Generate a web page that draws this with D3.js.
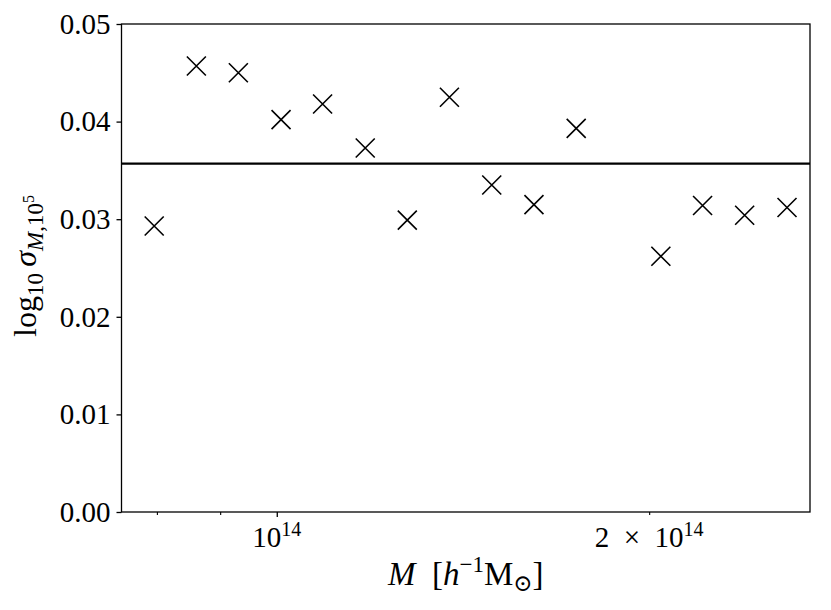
<!DOCTYPE html>
<html>
<head>
<meta charset="utf-8">
<script src="https://cdn.jsdelivr.net/npm/d3@7"></script>
<style>
    html, body { margin: 0; padding: 0; background: #fff; }
    svg text { font-family: 'Liberation Serif', 'DejaVu Serif', serif; fill: #000; }
</style>
</head>
<body>
<div id="chart"></div>
<script>
// halo mass bin centres (h^-1 Msun)
const massValues = [
    7.96e13, 8.61e13, 9.31e13, 1.008e14, 1.089e14, 1.179e14, 1.275e14, 1.379e14,
    1.492e14, 1.614e14, 1.746e14, 2.044e14, 2.209e14, 2.389e14, 2.585e14
];
// log10 sigma per bin
const sigmaValues = [
    0.0293, 0.0457, 0.0450, 0.0402, 0.0418, 0.0373, 0.0299, 0.0425,
    0.0335, 0.0315, 0.0393, 0.0262, 0.0314, 0.0304, 0.0312
];
const meanSigma = 0.0357;

const yTicks = [0, 0.01, 0.02, 0.03, 0.04, 0.05];
const yTickLabels = ['0.00', '0.01', '0.02', '0.03', '0.04', '0.05'];
const xMajorTicks = [1e14];
const xMinorTicks = [8e13, 9e13, 2e14];
const xTickLabels = [
    { value: 1e14, mantissa: '', exponent: '14' },
    { value: 2e14, mantissa: '2\u2002×\u2002', exponent: '14' }
];

const width = 831;
const height = 610;
const margin = { top: 24, right: 21, bottom: 98, left: 121.5 };
const innerWidth = width - margin.left - margin.right;
const innerHeight = height - margin.top - margin.bottom;

const svg = d3.select('#chart').append('svg')
    .attr('width', width)
    .attr('height', height);

const chartGroup = svg.append('g')
    .attr('transform', `translate(${margin.left},${margin.top})`);

const xScale = d3.scaleLog()
    .domain([7.49e13, 2.698e14])
    .range([0, innerWidth]);

const yScale = d3.scaleLinear()
    .domain([0, 0.05])
    .range([innerHeight, 0]);

const points = massValues.map((mass, index) => ({ mass, sigma: sigmaValues[index] }));

// y axis
chartGroup.append('g')
    .call(d3.axisLeft(yScale).tickValues(yTicks).tickSize(5).tickPadding(6)
        .tickFormat((value, index) => yTickLabels[index]))
    .call((group) => group.select('.domain').remove())
    .call((group) => group.selectAll('line').attr('stroke', '#000').attr('stroke-width', 1.3))
    .call((group) => group.selectAll('text')
        .attr('font-size', 29)
        .attr('font-family', 'Liberation Serif')
        .attr('fill', '#000'));

// x axis, major + minor ticks
chartGroup.append('g')
    .attr('transform', `translate(0,${innerHeight})`)
    .call(d3.axisBottom(xScale).tickValues(xMajorTicks).tickSize(5))
    .call((group) => group.select('.domain').remove())
    .call((group) => group.selectAll('text').remove())
    .call((group) => group.selectAll('line').attr('stroke', '#000').attr('stroke-width', 1.3));

chartGroup.append('g')
    .attr('transform', `translate(0,${innerHeight})`)
    .call(d3.axisBottom(xScale).tickValues(xMinorTicks).tickSize(3))
    .call((group) => group.select('.domain').remove())
    .call((group) => group.selectAll('text').remove())
    .call((group) => group.selectAll('line').attr('stroke', '#000').attr('stroke-width', 1.1));

const xLabelGroup = chartGroup.append('g');
xTickLabels.forEach((tick) => {
    const label = xLabelGroup.append('text')
        .attr('x', xScale(tick.value))
        .attr('y', innerHeight + 35)
        .attr('text-anchor', 'middle')
        .attr('font-size', 29);
    label.append('tspan').text(`${tick.mantissa}10`);
    label.append('tspan').attr('dy', -11).attr('font-size', 20).text(tick.exponent);
});

// mean line
chartGroup.append('line')
    .attr('x1', 0)
    .attr('x2', innerWidth)
    .attr('y1', yScale(meanSigma))
    .attr('y2', yScale(meanSigma))
    .attr('stroke', '#000')
    .attr('stroke-width', 2.2);

// x markers
const markerHalf = 9.5;
chartGroup.selectAll('.sigma-point')
    .data(points)
    .enter()
    .append('path')
    .attr('class', 'sigma-point')
    .attr('transform', (datum) => `translate(${xScale(datum.mass)},${yScale(datum.sigma)})`)
    .attr('d', `M${-markerHalf},${-markerHalf}L${markerHalf},${markerHalf}M${-markerHalf},${markerHalf}L${markerHalf},${-markerHalf}`)
    .attr('stroke', '#000')
    .attr('stroke-width', 1.6)
    .attr('fill', 'none');

// frame
chartGroup.append('rect')
    .attr('width', innerWidth)
    .attr('height', innerHeight)
    .attr('fill', 'none')
    .attr('stroke', '#000')
    .attr('stroke-width', 1.3);

// axis labels
const xAxisLabel = chartGroup.append('text')
    .attr('x', innerWidth / 2)
    .attr('y', innerHeight + 73)
    .attr('text-anchor', 'middle')
    .attr('font-size', 33);
xAxisLabel.append('tspan').attr('font-style', 'italic').text('M');
xAxisLabel.append('tspan').text('\u2002[');
xAxisLabel.append('tspan').attr('font-style', 'italic').text('h');
xAxisLabel.append('tspan').attr('dy', -13).attr('font-size', 23).text('−1');
xAxisLabel.append('tspan').attr('dy', 13).text('M');
xAxisLabel.append('tspan').attr('dy', 6).attr('font-size', 23).text('⊙');
xAxisLabel.append('tspan').attr('dy', -6).text(']');

const yAxisLabel = svg.append('text')
    .attr('transform', `translate(36,${margin.top + innerHeight / 2 - 2}) rotate(-90)`)
    .attr('text-anchor', 'middle')
    .attr('font-size', 32);
yAxisLabel.append('tspan').text('log');
yAxisLabel.append('tspan').attr('dy', 7).attr('font-size', 23).text('10');
yAxisLabel.append('tspan').attr('dy', -7).text('\u2009');
yAxisLabel.append('tspan').attr('font-style', 'italic').text('σ');
yAxisLabel.append('tspan').attr('dy', 7).attr('font-size', 23).attr('font-style', 'italic').text('M');
yAxisLabel.append('tspan').attr('font-size', 23).text(',10');
yAxisLabel.append('tspan').attr('dy', -9).attr('font-size', 16).text('5');
</script>
</body>
</html>
